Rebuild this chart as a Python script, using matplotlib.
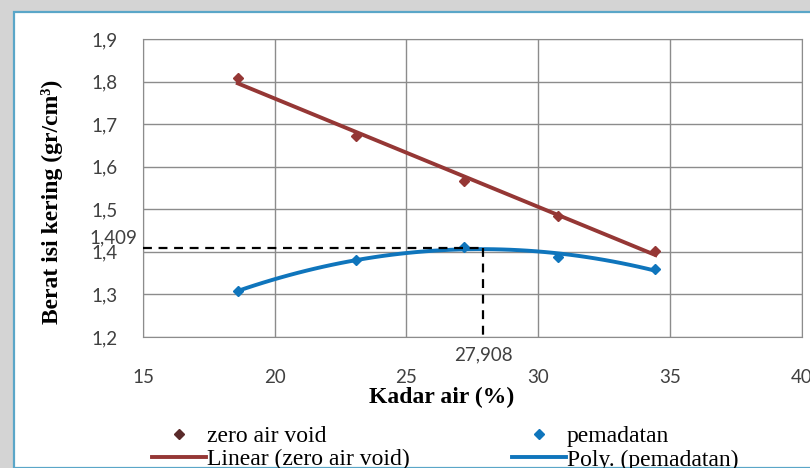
import numpy as np
import matplotlib.pyplot as plt
from matplotlib.patches import Rectangle
from matplotlib.lines import Line2D

# data
kadar_air = [18.6, 23.1, 27.2, 30.75, 34.45]
zav = [1.808, 1.672, 1.566, 1.484, 1.403]
pemadatan = [1.307, 1.382, 1.411, 1.388, 1.359]
opt_w = 27.908
opt_gamma = 1.409
xticks = [15, 20, 25, 30, 35, 40]
yticks = [1.2, 1.3, 1.4, 1.5, 1.6, 1.7, 1.8, 1.9]

red = '#953735'
blue = '#0f75bc'
tick_font = ['Lato', 'DejaVu Sans']
serif = ['Liberation Serif', 'DejaVu Serif']

fig = plt.figure(figsize=(8.1, 4.68), dpi=100, facecolor='#d4d4d4')
# chart frame
fig.patches.append(Rectangle((14 / 810, 0), 1.0, 1 - 12 / 468, transform=fig.transFigure,
                             facecolor='white', edgecolor='#5aa6c8', linewidth=1.6, zorder=-1))

ax = fig.add_axes([143 / 810, 1 - 337 / 468, (801.7 - 143) / 810, (337 - 39) / 468])
ax.set_zorder(2)
ax.set_xlim(15, 40)
ax.set_ylim(1.2, 1.9)
ax.set_xticks(xticks)
ax.set_yticks(yticks)
ax.set_xticklabels([str(t) for t in xticks], family=tick_font, fontsize=13.5, color='#404040')
ax.set_yticklabels([('%.1f' % t).replace('.', ',') for t in yticks], family=tick_font,
                   fontsize=13.5, color='#404040')
ax.tick_params(length=0)
ax.tick_params(axis='y', pad=18.5)
ax.tick_params(axis='x', pad=23)
ax.grid(True, color='#8c8c8c', linewidth=1)
ax.set_axisbelow(True)
for s in ax.spines.values():
    s.set_color('#8c8c8c')

xs = np.array(kadar_air)
# linear trend for zero air void
c1 = np.polyfit(xs, zav, 1)
xl = np.linspace(xs.min(), xs.max(), 50)
ax.plot(xl, np.polyval(c1, xl), color=red, linewidth=2.8, zorder=3)
ax.plot(xs, zav, 'D', color=red, markersize=5, zorder=4)

# polynomial trend for pemadatan
c2 = np.polyfit(xs, pemadatan, 2)
ax.plot(xl, np.polyval(c2, xl), color=blue, linewidth=2.8, zorder=3)
ax.plot(xs, pemadatan, 'D', color=blue, markersize=5, zorder=4)

# optimum lines
ax.plot([15, opt_w], [opt_gamma, opt_gamma], color='black', linestyle=(0, (4, 3)),
        linewidth=1.6, zorder=5, clip_on=False)
ax.plot([opt_w, opt_w], [opt_gamma, 1.2], color='black', linestyle=(0, (4, 3)),
        linewidth=1.6, zorder=5, clip_on=False)
ax.text(14.77, opt_gamma + 0.011, ('%.3f' % opt_gamma).replace('.', ','), ha='right',
        va='baseline', family=tick_font, fontsize=13.5, color='#404040')
ax.text(opt_w, 1.146, ('%.3f' % opt_w).replace('.', ','), ha='center', va='baseline',
        family=tick_font, fontsize=13.5, color='#404040')

ax.set_xlabel('Kadar air (%)', family=serif, fontsize=17, fontweight='bold')
ax.xaxis.set_label_coords(0.453, -0.168)
ax.set_ylabel('Berat isi kering (gr/cm³)', family=serif, fontsize=17, fontweight='bold')
ax.yaxis.set_label_coords(-0.1215, 0.453)

handles = [
    Line2D([], [], linestyle='none', marker='D', color='#5a2a2a', markersize=5),
    Line2D([], [], color=red, linewidth=2.8),
    Line2D([], [], linestyle='none', marker='D', color=blue, markersize=5),
    Line2D([], [], color=blue, linewidth=2.8),
]
labels = ['zero air void', 'Linear (zero air void)', 'pemadatan', 'Poly. (pemadatan)']
fig.legend(handles, labels, ncol=2, loc='upper left', bbox_to_anchor=(143 / 810, 1 - 416 / 468),
           frameon=False, prop={'family': serif, 'size': 17}, handlelength=2.25,
           handletextpad=0.05, columnspacing=4.36, labelspacing=0.085, numpoints=1,
           borderaxespad=0)

fig.savefig('out.png', dpi=100, facecolor=fig.get_facecolor())
